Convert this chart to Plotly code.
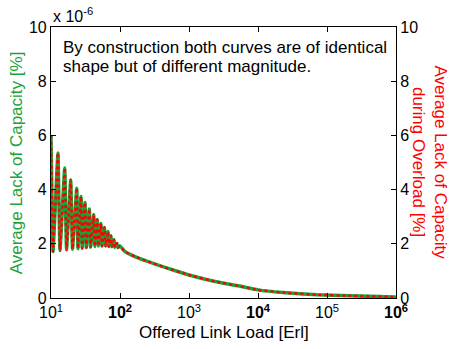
import plotly.graph_objects as go

# Offered link load [Erl] and average lack of capacity (in units of 1e-6 %)
load = [10, 10.7, 12.6, 13.5, 15.8, 16.8, 19.3, 20.5, 23.6, 24.6, 27.2, 28.3,
        31.1, 32.5, 35.9, 37.5, 41.6, 43.2, 46.9, 48.6, 53.0, 54.8, 59.5, 61.8,
        67.0, 69.0, 74.1, 76.3, 81.8, 84.4, 90.3, 93.3, 100, 118, 165, 257, 449,
        1000, 2382, 5129, 1e4, 2.3e4, 7.16e4, 2.15e5, 9.06e5, 1e6]
avg_lack = [6.0, 1.72, 5.35, 1.75, 4.8, 1.78, 4.35, 1.8, 4.05, 1.82, 3.75, 1.84,
            3.52, 1.86, 3.28, 1.88, 3.07, 1.9, 2.9, 1.92, 2.75, 1.92, 2.6, 1.92,
            2.45, 1.9, 2.3, 1.89, 2.15, 1.87, 2.02, 1.86, 1.92, 1.71, 1.53, 1.34, 1.13,
            0.85, 0.61, 0.45, 0.30, 0.20, 0.12, 0.08, 0.04, 0.035]
# Lack of capacity during overload [%]: same shape, own scale on the right axis
overload_lack = [6.0, 1.72, 5.35, 1.75, 4.8, 1.78, 4.35, 1.8, 4.05, 1.82, 3.75, 1.84,
                 3.52, 1.86, 3.28, 1.88, 3.07, 1.9, 2.9, 1.92, 2.75, 1.92, 2.6, 1.92,
                 2.45, 1.9, 2.3, 1.89, 2.15, 1.87, 2.02, 1.86, 1.92, 1.71, 1.53, 1.34, 1.13,
                 0.85, 0.61, 0.45, 0.30, 0.20, 0.12, 0.08, 0.04, 0.035]

x_ticks = [10, 100, 1000, 1e4, 1e5, 1e6]
x_ticktext = ["10<sup>1</sup>", "<b>10<sup>2</sup></b>", "10<sup>3</sup>",
              "<b>10<sup>4</sup></b>", "10<sup>5</sup>", "<b>10<sup>6</sup></b>"]
y_ticks = [0, 2, 4, 6, 8, 10]

GREEN = "#1aa33a"
RED = "#ff0000"
FONT = "Liberation Sans, Arial, sans-serif"

fig = go.Figure()
fig.add_trace(go.Scatter(x=load, y=avg_lack, mode="lines",
                         line=dict(color=GREEN, width=3.5, shape="spline", smoothing=0.3),
                         yaxis="y"))
fig.add_trace(go.Scatter(x=load, y=overload_lack, mode="lines",
                         line=dict(color=RED, width=2.5, dash="dot", shape="spline", smoothing=0.3),
                         yaxis="y2"))

axis_common = dict(showline=True, linecolor="black", linewidth=1.2,
                   ticks="inside", ticklen=5, tickcolor="black",
                   showgrid=False, zeroline=False,
                   tickfont=dict(family=FONT, size=16, color="black"))

fig.update_layout(
    width=449, height=349,
    margin=dict(l=51, r=53, t=27, b=51),
    paper_bgcolor="white", plot_bgcolor="white",
    showlegend=False,
    font=dict(family=FONT, color="black"),
    xaxis=dict(type="log", range=[1, 6], tickvals=x_ticks, ticktext=x_ticktext,
               mirror="ticks", **axis_common),
    yaxis=dict(range=[0, 10], tickvals=y_ticks, **axis_common),
    yaxis2=dict(range=[0, 10], tickvals=y_ticks, overlaying="y", side="right",
                **axis_common),
    annotations=[
        dict(text="By construction both curves are of identical",
             xref="paper", yref="paper", x=0.03, y=0.926, xanchor="left", yanchor="middle",
             align="left", showarrow=False, font=dict(size=17, family=FONT, color="black")),
        dict(text="shape but of different magnitude.",
             xref="paper", yref="paper", x=0.03, y=0.856, xanchor="left", yanchor="middle",
             align="left", showarrow=False, font=dict(size=17, family=FONT, color="black")),
        dict(text="x 10<sup>-6</sup>", xref="paper", yref="paper", x=0.0, y=1.0,
             xanchor="left", yanchor="bottom", showarrow=False,
             font=dict(size=16, family=FONT, color="black")),
        dict(text="Offered Link Load [Erl]", xref="paper", yref="paper", x=0.5, y=-0.127,
             xanchor="center", yanchor="middle", showarrow=False,
             font=dict(size=17, family=FONT, color="black")),
        dict(text="Average Lack of Capacity [%]", xref="paper", yref="paper",
             x=-0.099, y=0.5, xanchor="center", yanchor="middle", textangle=-90,
             showarrow=False, font=dict(size=17, family=FONT, color=GREEN)),
        dict(text="Average Lack of Capacity<br>during Overload [%]", xref="paper", yref="paper",
             x=1.096, y=0.5, xanchor="center", yanchor="middle", textangle=90,
             showarrow=False, font=dict(size=17, family=FONT, color=RED)),
    ],
)

fig.write_html("out.html")
